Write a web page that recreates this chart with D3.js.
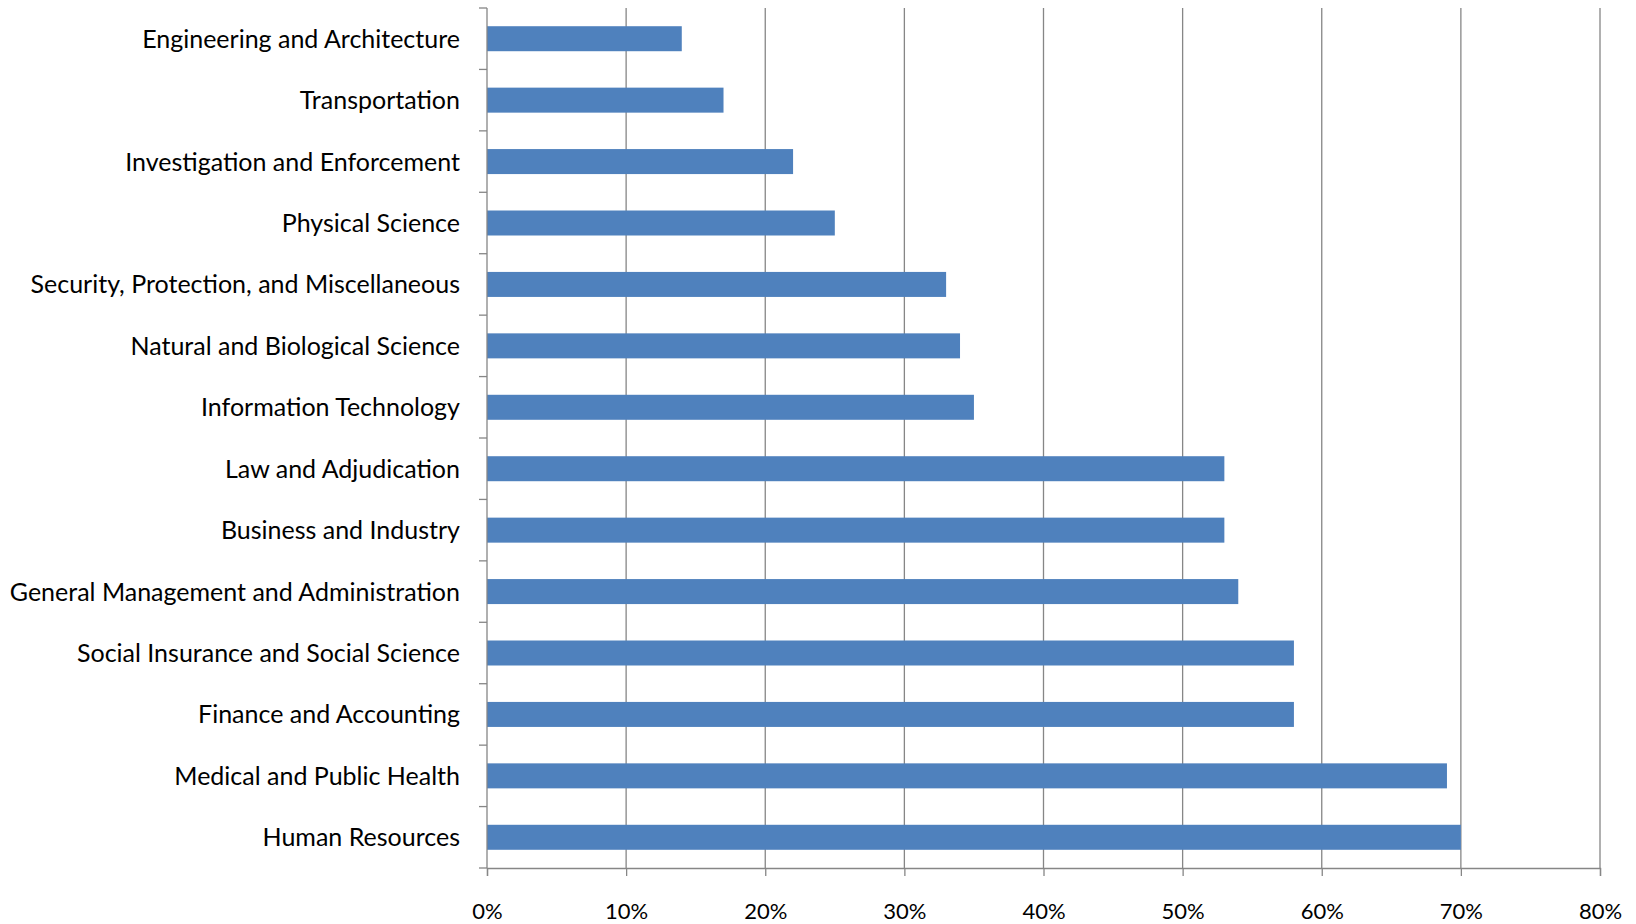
<!DOCTYPE html>
<html>
<head>
<meta charset="utf-8">
<script src="https://cdn.jsdelivr.net/npm/d3@7"></script>
<style>
  html, body { margin: 0; padding: 0; background: #fff; }
  svg { display: block; }
</style>
</head>
<body>
<svg id="chart" width="1636" height="924"></svg>
<script>
const categories = [
  "Engineering and Architecture",
  "Transportation",
  "Investigation and Enforcement",
  "Physical Science",
  "Security, Protection, and Miscellaneous",
  "Natural and Biological Science",
  "Information Technology",
  "Law and Adjudication",
  "Business and Industry",
  "General Management and Administration",
  "Social Insurance and Social Science",
  "Finance and Accounting",
  "Medical and Public Health",
  "Human Resources"
];
const values = [14, 17, 22, 25, 33, 34, 35, 53, 53, 54, 58, 58, 69, 70];
const xTicks = [0, 10, 20, 30, 40, 50, 60, 70, 80];

(function () {
const svg = d3.select("#chart");
const mLeft = 487, mRight = 1600, mTop = 8, mBottom = 868;
const axisColor = "#868686";
const fontFamily = "Lato, 'Open Sans', sans-serif";

const x = d3.scaleLinear().domain([0, 80]).range([mLeft, mRight]);
const pad = 0.593;
const y = d3.scaleBand().domain(categories).range([mTop, mBottom])
  .paddingInner(pad).paddingOuter(pad / 2);
const step = y.step();

// gridlines
svg.append("g").selectAll("line")
  .data(xTicks.filter(d => d > 0))
  .join("line")
  .attr("x1", d => x(d)).attr("x2", d => x(d))
  .attr("y1", mTop).attr("y2", mBottom)
  .attr("stroke", axisColor).attr("stroke-width", 1.3);

// bars
svg.append("g").selectAll("rect")
  .data(categories)
  .join("rect")
  .attr("x", x(0))
  .attr("y", d => y(d))
  .attr("width", (d, i) => x(values[i]) - x(0))
  .attr("height", y.bandwidth())
  .attr("fill", "#4F81BD");

// y axis line and boundary ticks
const boundaries = d3.range(categories.length + 1).map(i => mTop + i * step);
const yAxis = svg.append("g");
yAxis.append("line")
  .attr("x1", mLeft).attr("x2", mLeft).attr("y1", mTop).attr("y2", mBottom)
  .attr("stroke", axisColor).attr("stroke-width", 1.3);
yAxis.selectAll("line.tick").data(boundaries).join("line")
  .attr("class", "tick")
  .attr("x1", mLeft - 8).attr("x2", mLeft)
  .attr("y1", d => d).attr("y2", d => d)
  .attr("stroke", axisColor).attr("stroke-width", 1.3);
yAxis.selectAll("text").data(categories).join("text")
  .attr("x", mLeft - 27)
  .attr("y", d => y(d) + y.bandwidth() / 2)
  .attr("dy", "0.36em")
  .attr("text-anchor", "end")
  .attr("font-family", fontFamily)
  .attr("font-size", 25)
  .attr("fill", "#000")
  .text(d => d);

// x axis
const xAxis = d3.axisBottom(x)
  .tickValues(xTicks)
  .tickFormat(d => d + "%")
  .tickSize(8)
  .tickPadding(27);
const gx = svg.append("g").attr("transform", `translate(0,${mBottom})`).call(xAxis);
gx.select(".domain").attr("stroke", axisColor).attr("stroke-width", 1.3);
gx.selectAll(".tick line").attr("stroke", axisColor).attr("stroke-width", 1.3);
gx.selectAll(".tick text")
  .attr("font-family", fontFamily)
  .attr("font-size", 22)
  .attr("fill", "#000");
})();
</script>
</body>
</html>
